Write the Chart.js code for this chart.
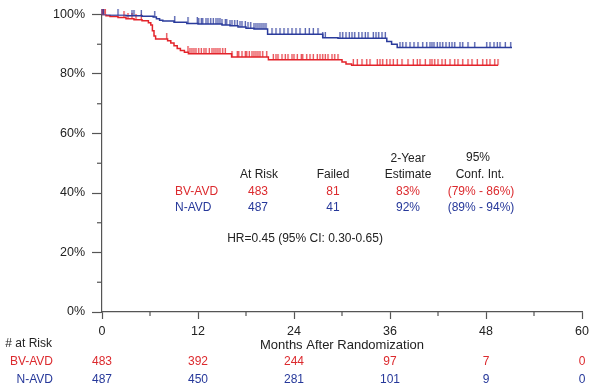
<!DOCTYPE html>
<html><head><meta charset="utf-8">
<script src="https://cdn.jsdelivr.net/npm/chart.js@4"></script>
<style>html,body{margin:0;padding:0;background:#fff}#wrap{width:600px;height:390px}</style>
</head><body><div id="wrap"><canvas id="c" width="600" height="390"></canvas></div>
<script>
// ---- data ----
const bvTimes = [0,0.5,1,2,3,4,5,5.8,6.1,6.3,6.5,6.7,8.2,8.6,9.0,9.4,9.8,10.3,10.8,16.2,20.8,30.0,30.5,31.2,49.5];
const bvSurv  = [100,99.6,99.3,99.0,98.6,98.2,97.9,97.2,96.5,94.5,92.8,91.8,91.2,90.4,89.5,88.6,87.9,87.3,86.8,85.7,84.8,84.0,83.4,82.9,82.9];
const nTimes  = [0,1,3,5,6.4,6.8,7.2,7.6,9,10.6,12,15,16,17,18,19,20.7,27.6,29.5,35.6,36.2,36.9,51.25];
const nSurv   = [100,99.8,99.6,99.4,99.2,98.6,98.1,97.8,97.4,97.0,96.8,96.5,96.2,95.8,95.4,95.1,93.4,92.2,92.0,90.9,90.0,88.9,88.9];
const bvCensor = [0,0.1,0.25,0.4,2.75,3.25,3.75,4.25,4.9,8.1,10.75,11,11.25,11.5,11.75,12.1,12.4,12.75,13,13.4,13.75,14,14.25,14.5,14.75,15.1,15.4,16.25,16.9,17.1,17.5,17.9,18.1,18.4,18.75,19,19.25,19.5,19.75,20.1,20.6,21.4,21.75,22,22.5,22.9,23.25,23.75,24,24.4,24.9,25.1,25.6,26,26.4,26.9,27.25,27.6,27.9,28.25,28.75,29.1,29.5,31.4,31.9,32.5,33.1,33.5,34.4,34.75,35.1,35.6,36,36.4,36.9,37.5,38.25,38.9,39.4,39.75,40.4,41,41.25,41.6,42,42.5,42.9,43.5,44.1,44.5,45.1,45.75,46.25,46.9,47.6,48.1,48.5,49.1,49.5];
const nCensor = [0,0.2,2.0,3.75,4.0,4.9,6.6,9.1,10.75,11.9,12.1,12.4,12.6,13.0,13.25,13.6,13.9,14.25,14.5,14.75,15,15.4,15.6,16,16.25,16.6,16.9,17.25,17.5,17.9,18.25,18.6,19,19.25,19.5,19.75,20,20.25,20.5,21.25,21.75,22.25,22.75,23.25,23.75,24.25,24.75,25.4,25.9,26.4,27,27.6,27.9,29.75,30.1,30.5,30.9,31.25,31.6,32.1,32.5,32.9,33.25,33.9,34.25,34.6,35,35.4,37.25,37.6,38,38.5,39,39.5,40.1,40.6,41,41.25,41.5,41.9,42.25,42.6,43,43.4,43.75,44.1,44.75,45.1,45.75,46.6,48.1,48.5,49,49.4,49.75,50.4,51.1];
const riskMonths = [0,12,24,36,48,60];
const riskBV = [483,392,244,97,7,0];
const riskN  = [487,450,281,101,9,0];
const groupNames = ['BV-AVD','N-AVD'];
const atRisk = [483,487];
const failed = [81,41];
const estimate2y = ['83%','92%'];
const confInt = ['(79% - 86%)','(89% - 94%)'];
const hrText = 'HR=0.45 (95% CI: 0.30-0.65)';

const RED = '#e3232a', BLUE = '#2a3b9c';
const RED_T = '#dc2a2e', BLUE_T = '#26389a';
const AXIS = '#555';
const FONT = '"Liberation Sans", Arial, Helvetica, sans-serif';

function stepPoints(t, s){ return t.map((v,i)=>({x:v,y:s[i]})); }
function survAt(t, s, x){ let v=s[0]; for(let i=0;i<t.length;i++){ if(t[i]<=x) v=s[i]; } return v; }
function censorPts(c, t, s){ return c.map(x=>({x:x, y:survAt(t,s,x)})); }
function tickImg(color){
  const cv=document.createElement('canvas'); cv.width=3; cv.height=12;
  const g=cv.getContext('2d'); g.strokeStyle=color; g.lineWidth=1.1;
  g.beginPath(); g.moveTo(1.5,0); g.lineTo(1.5,6); g.stroke(); return cv;
}

const extras = {
  id:'extras',
  afterDraw(chart){
    const ctx=chart.ctx, xs=chart.scales.x, ys=chart.scales.y;
    const a=chart.chartArea;
    ctx.save();
    ctx.strokeStyle=AXIS; ctx.lineWidth=1.2;
    // minor ticks
    [10,30,50,70,90].forEach(v=>{const p=ys.getPixelForValue(v); ctx.beginPath(); ctx.moveTo(a.left-5,p); ctx.lineTo(a.left,p); ctx.stroke();});
    [6,18,30,42,54].forEach(v=>{const p=xs.getPixelForValue(v); ctx.beginPath(); ctx.moveTo(p,a.bottom); ctx.lineTo(p,a.bottom+4); ctx.stroke();});
    // inner table
    ctx.font='12px '+FONT; ctx.textBaseline='middle';
    ctx.fillStyle='#222'; ctx.textAlign='center';
    ctx.fillText('2-Year',408,159); ctx.fillText('95%',478,158);
    ctx.fillText('At Risk',259,175); ctx.fillText('Failed',333,175);
    ctx.fillText('Estimate',408,175); ctx.fillText('Conf. Int.',480,175);
    const rowY=[192,208], cols=[RED_T,BLUE_T];
    for(let i=0;i<2;i++){
      ctx.fillStyle=cols[i];
      ctx.textAlign='left'; ctx.fillText(groupNames[i],175,rowY[i]);
      ctx.textAlign='center';
      ctx.fillText(String(atRisk[i]),258,rowY[i]);
      ctx.fillText(String(failed[i]),333,rowY[i]);
      ctx.fillText(estimate2y[i],408,rowY[i]);
      ctx.fillText(confInt[i],481,rowY[i]);
    }
    ctx.fillStyle='#222'; ctx.fillText(hrText,305,239);
    // risk table
    ctx.font='12px '+FONT;
    ctx.textAlign='right';
    ctx.fillStyle='#222'; ctx.fillText('# at Risk',52,344);
    ctx.fillStyle=RED_T; ctx.fillText(groupNames[0],53,362);
    ctx.fillStyle=BLUE_T; ctx.fillText(groupNames[1],53,380);
    ctx.textAlign='center';
    riskMonths.forEach((m,i)=>{
      const p=xs.getPixelForValue(m);
      ctx.fillStyle=RED_T; ctx.fillText(String(riskBV[i]),p,362);
      ctx.fillStyle=BLUE_T; ctx.fillText(String(riskN[i]),p,380);
    });
    ctx.restore();
  }
};

new Chart(document.getElementById('c'), {
  type:'scatter',
  data:{datasets:[
    {type:'line',data:stepPoints(bvTimes,bvSurv),stepped:true,borderColor:RED,borderWidth:1.5,pointRadius:0,fill:false,order:2},
    {type:'line',data:stepPoints(nTimes,nSurv),stepped:true,borderColor:BLUE,borderWidth:1.5,pointRadius:0,fill:false,order:1},
    {data:censorPts(bvCensor,bvTimes,bvSurv),pointStyle:tickImg(RED),pointRadius:3,showLine:false,clip:false,order:2},
    {data:censorPts(nCensor,nTimes,nSurv),pointStyle:tickImg(BLUE),pointRadius:3,showLine:false,clip:false,order:1}
  ]},
  options:{
    responsive:false, animation:false, devicePixelRatio:1, events:[],
    layout:{padding:{left:0,right:18,top:12,bottom:37}},
    plugins:{legend:{display:false},tooltip:{enabled:false}},
    scales:{
      x:{type:'linear',min:0,max:60,
        ticks:{stepSize:12,color:'#222',font:{family:FONT,size:12.5},padding:5,maxRotation:0},
        grid:{display:true,drawOnChartArea:false,drawTicks:true,tickLength:7,tickColor:AXIS,tickWidth:1.2,color:AXIS},
        border:{display:true,color:AXIS,width:1.2},
        title:{display:true,text:'Months After Randomization',color:'#222',font:{family:FONT,size:13},padding:{top:0,bottom:0}},
        afterFit(s){s.height=41;}
      },
      y:{min:0,max:100,
        ticks:{stepSize:20,color:'#222',font:{family:FONT,size:12.5},padding:7,callback:v=>v+'%'},
        grid:{display:true,drawOnChartArea:false,drawTicks:true,tickLength:10,tickColor:AXIS,tickWidth:1.2,color:AXIS},
        border:{display:true,color:AXIS,width:1.2},
        afterFit(s){s.width=102;}
      }
    }
  },
  plugins:[extras]
});
</script></body></html>
